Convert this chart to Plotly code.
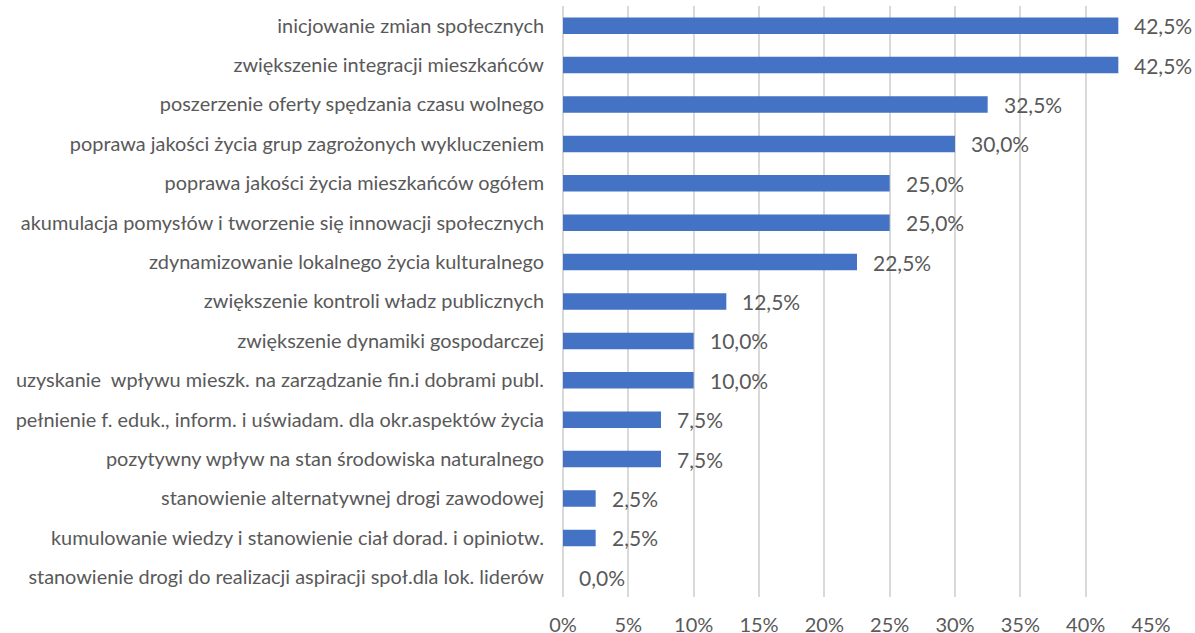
import plotly.graph_objects as go

categories = [
    "inicjowanie zmian społecznych",
    "zwiększenie integracji mieszkańców",
    "poszerzenie oferty spędzania czasu wolnego",
    "poprawa jakości życia grup zagrożonych wykluczeniem",
    "poprawa jakości życia mieszkańców ogółem",
    "akumulacja pomysłów i tworzenie się innowacji społecznych",
    "zdynamizowanie lokalnego życia kulturalnego",
    "zwiększenie kontroli władz publicznych",
    "zwiększenie dynamiki gospodarczej",
    "uzyskanie  wpływu mieszk. na zarządzanie fin.i dobrami publ.",
    "pełnienie f. eduk., inform. i uświadam. dla okr.aspektów życia",
    "pozytywny wpływ na stan środowiska naturalnego",
    "stanowienie alternatywnej drogi zawodowej",
    "kumulowanie wiedzy i stanowienie ciał dorad. i opiniotw.",
    "stanowienie drogi do realizacji aspiracji społ.dla lok. liderów",
]
values = [42.5, 42.5, 32.5, 30.0, 25.0, 25.0, 22.5, 12.5, 10.0, 10.0, 7.5, 7.5, 2.5, 2.5, 0.0]
value_labels = ["42,5%", "42,5%", "32,5%", "30,0%", "25,0%", "25,0%", "22,5%", "12,5%",
                "10,0%", "10,0%", "7,5%", "7,5%", "2,5%", "2,5%", "0,0%"]
tick_vals = [0, 5, 10, 15, 20, 25, 30, 35, 40, 45]
tick_labels = ["0%", "5%", "10%", "15%", "20%", "25%", "30%", "35%", "40%", "45%"]

FONT = "Lato"
GRAY = "#595959"

fig = go.Figure()
fig.add_trace(go.Bar(
    x=values, y=categories, orientation="h",
    marker=dict(color="#4472C4", line=dict(width=0)),
    hoverinfo="skip",
))

for cat, val, lab in zip(categories, values, value_labels):
    fig.add_annotation(
        x=val, y=cat, text=lab, xref="x", yref="y",
        xanchor="left", yanchor="middle", xshift=14, yshift=0,
        showarrow=False, font=dict(family=FONT, size=21, color=GRAY),
    )

fig.update_layout(
    width=1195, height=633,
    margin=dict(l=563, r=44, t=6, b=36, autoexpand=False),
    paper_bgcolor="white", plot_bgcolor="white",
    bargap=0.58,
    showlegend=False,
    font=dict(family=FONT, color=GRAY),
)
fig.update_xaxes(
    range=[0, 45], tickvals=tick_vals, ticktext=tick_labels,
    showgrid=True, gridcolor="#D9D9D9", gridwidth=1.5,
    zeroline=True, zerolinecolor="#D9D9D9", zerolinewidth=1.5,
    showline=False, ticks="", ticklabelstandoff=14, automargin=False,
    tickfont=dict(family=FONT, size=20, color=GRAY),
    fixedrange=True,
)
fig.update_yaxes(
    autorange="reversed", showgrid=False, zeroline=False, showline=False,
    ticks="", ticklabelstandoff=18, automargin=False,
    tickfont=dict(family=FONT, size=19.9, color=GRAY),
    fixedrange=True,
)

fig.write_html("out.html", config={"displayModeBar": False},
               post_script="document.body.style.margin='0';document.body.style.overflow='hidden';")
